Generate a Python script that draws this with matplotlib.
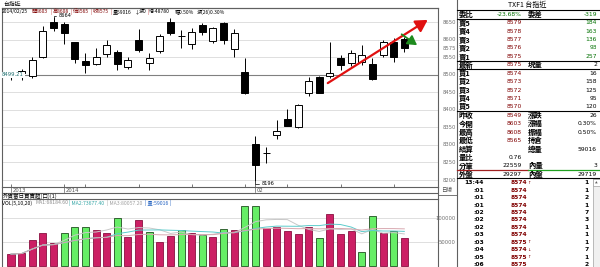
import numpy as np
import matplotlib
matplotlib.use("Agg")
import matplotlib.pyplot as plt
import matplotlib.transforms as mtransforms
from matplotlib.patches import Rectangle

plt.rcParams['font.family'] = ['DejaVu Sans', 'Noto Sans CJK TC']

W, H = 600, 267

# daily candles, 2013/12/25 .. 2014/02/25
opens = [8494, 8510, 8496, 8550, 8650, 8644, 8593, 8539, 8530, 8559, 8565, 8522, 8599,
         8533, 8567, 8650, 8611, 8587, 8641, 8596, 8647, 8573, 8508, 8303, 8276, 8328,
         8374, 8351, 8448, 8493, 8496, 8547, 8533, 8536, 8530, 8556, 8593, 8603]
highs = [8506, 8516, 8550, 8639, 8664, 8650, 8594, 8562, 8576, 8599, 8570, 8550, 8630,
         8562, 8616, 8661, 8627, 8633, 8647, 8636, 8650, 8630, 8547, 8325, 8294, 8371,
         8402, 8416, 8493, 8496, 8593, 8556, 8570, 8584, 8547, 8598, 8604, 8608]
lows = [8486, 8485, 8491, 8548, 8624, 8587, 8533, 8505, 8528, 8550, 8513, 8516, 8565,
        8513, 8562, 8613, 8576, 8573, 8613, 8590, 8587, 8550, 8445, 8196, 8248, 8317,
        8353, 8348, 8439, 8447, 8491, 8513, 8525, 8528, 8485, 8550, 8536, 8565]
closes = [8500, 8506, 8542, 8624, 8633, 8619, 8545, 8528, 8550, 8584, 8530, 8542, 8570,
          8547, 8610, 8619, 8610, 8622, 8621, 8633, 8599, 8619, 8448, 8243, 8277, 8340,
          8354, 8414, 8482, 8448, 8505, 8528, 8562, 8556, 8488, 8593, 8549, 8575]
volumes = [25000, 27000, 54000, 69000, 48000, 69000, 81000, 81000, 75000, 69000,
           100000, 60000, 96000, 71000, 50000, 62000, 75000, 69000, 65000, 60000,
           77000, 75000, 125000, 125000, 79000, 81000, 73000, 67000, 81000, 58000,
           108000, 67000, 73000, 29000, 104000, 69000, 73000, 59016]
tick_pos = [0, 5, 7, 12, 17, 22, 23, 26, 31, 36]
date_labels = {0: "2013", 5: "2014", 23: "02"}
price_ticks = [8650, 8600, 8575, 8550, 8500, 8450, 8400, 8350, 8300, 8250, 8200]
vol_ticks = [100000, 50000]
ref_price = 8499.21
up_arrow = ((29.8, 8476), (39.2, 8656))      # (from, to) in (bar, price)
down_arrow = ((36.75, 8615), (38.2, 8584))

# header strings
info_parts = ["2014/02/25", "開8603", "|", "高8608", "|", "低8565", "|", "收8575", "|",
              "量59016", "↓", "漲0", "|", "增-48780", "幅0.50%", "漲(26)0.30%"]
vol_parts = ["VOL(5,10,20)", "MA1:68184.60", "| MA2:73677.40", "| MA3:80057.20", "| 量:59016 |"]

# quote board
ask_rows = [("賣5", "8579", "184"), ("賣4", "8578", "163"), ("賣3", "8577", "136"),
            ("賣2", "8576", "93"), ("賣1", "8575", "257")]
bid_rows = [("買1", "8574", "16"), ("買2", "8573", "158"), ("買3", "8572", "125"),
            ("買4", "8571", "95"), ("買5", "8570", "120")]
stat_rows = [("昨收", "8549", "漲跌", "26"), ("今開", "8603", "漲幅", "0.30%"),
             ("最高", "8608", "振幅", "0.50%"), ("最低", "8565", "持倉", ""),
             ("結算", "", "總量", "59016"), ("量比", "0.76", "", ""),
             ("分筆", "22559", "內量", "3"), ("外盤", "29297", "內盤", "29719")]
tick_times = ["13:44", ":01", ":01", ":01", ":02", ":02", ":02", ":03", ":03", ":04", ":05", ":06"]
tick_prices = ["8574", "8574", "8574", "8574", "8574", "8574", "8574", "8574", "8575",
               "8574", "8575", "8575"]
tick_marks = ["↑", "", "", "", "", "", "", "", "↑", "↓", "↑", ""]
tick_vols = ["1", "1", "2", "1", "7", "3", "1", "1", "1", "7", "1", "2"]

UP_VOL, DN_VOL = "#cc1f64", "#66ee66"
MAROON, DKGREEN = "#800000", "#007000"
AXC = "#606060"


def box(x0, y0, x1, y1):
    return [x0 / W, 1 - y1 / H, (x1 - x0) / W, (y1 - y0) / H]


fig = plt.figure(figsize=(W / 100, H / 100), dpi=100)
fig.patch.set_facecolor("white")

n = len(closes)
idx = np.arange(n)
pxper = 10.63                       # pixels per bar
x0 = (2 - 11) / pxper
x1 = (438 - 11) / pxper

# ---- price panel
ax = fig.add_axes(box(2, 8, 438, 187))
ppt = 158 / 450.0
ax.set_xlim(x0, x1)
ax.set_ylim(8650 - 165 / ppt, 8650 + 14 / ppt)
for p in range(8200, 8651, 50):
    ax.axhline(p, color="#d9d9d9", lw=0.6, zorder=0)
ax.axhline(ref_price, color="#808080", lw=0.8, zorder=0)
o, c = np.array(opens), np.array(closes)
ax.vlines(idx, lows, highs, color="black", lw=0.7, zorder=2)
body_lo = np.minimum(o, c)
body_h = np.maximum(np.abs(c - o), 0.8)
face = ["white" if cc >= oo else "black" for oo, cc in zip(o, c)]
ax.bar(idx, body_h, bottom=body_lo, width=0.66, color=face, edgecolor="black", lw=0.7, zorder=3)
ax.set_xticks(tick_pos)
ax.tick_params(axis="x", length=2, width=0.6, labelbottom=False, direction="in", color=AXC)
ax.set_yticks([])
for s in ax.spines.values():
    s.set_linewidth(0.8)
    s.set_color(AXC)
tr = mtransforms.blended_transform_factory(ax.transAxes, ax.transData)
for p in price_ticks:
    ax.text(1.010, p, str(p), transform=tr, fontsize=3.8, color="#707070", va="center", ha="left",
            clip_on=False)
ax.text(0.0, ref_price, "8499.21", transform=tr, fontsize=3.8, color="#207070", va="center",
        ha="left", bbox=dict(boxstyle="square,pad=0.15", fc="white", ec="none"), zorder=5)
# high / low marks
hi = int(np.argmax(highs))
lo = int(np.argmin(lows))
ax.annotate(str(max(highs)), xy=(hi, max(highs)), xytext=(hi + 0.45, max(highs) + 4),
            fontsize=3.6, va="center", ha="left",
            arrowprops=dict(arrowstyle="-", lw=0.5, shrinkA=0, shrinkB=0,
                            connectionstyle="angle,angleA=0,angleB=90,rad=0"))
ax.annotate(str(min(lows)), xy=(lo, min(lows)), xytext=(lo + 0.55, min(lows) - 6),
            fontsize=3.6, va="center", ha="left",
            arrowprops=dict(arrowstyle="-", lw=0.5, shrinkA=0, shrinkB=0,
                            connectionstyle="angle,angleA=0,angleB=90,rad=0"))
# trend arrows
ax.annotate("", xy=up_arrow[1], xytext=up_arrow[0],
            arrowprops=dict(arrowstyle="-|>,head_length=0.7,head_width=0.4", color="#e01010",
                            lw=1.6, shrinkA=0, shrinkB=0), zorder=6)
ax.annotate("", xy=down_arrow[1], xytext=down_arrow[0],
            arrowprops=dict(arrowstyle="-|>,head_length=0.55,head_width=0.32", color="#1e8a1e",
                            lw=1.3, shrinkA=0, shrinkB=0), zorder=6)

# ---- volume panel
vax = fig.add_axes(box(2, 199, 438, 267))
vax.set_xlim(x0, x1)
vpp = 24 / 50000.0
vax.set_ylim(-1 / vpp, 67 / vpp)
for v in vol_ticks:
    vax.axhline(v, color="#d9d9d9", lw=0.6, zorder=0)
vcol = [UP_VOL] + [UP_VOL if closes[i] >= closes[i - 1] else DN_VOL for i in range(1, n)]
vedge = ["#8a1040" if cc == UP_VOL else "#1f4f1f" for cc in vcol]
vax.bar(idx, volumes, width=0.66, color=vcol, edgecolor=vedge, lw=0.6, zorder=2)
vol = np.array(volumes, float)
for win, colr in [(5, "#c8c8c8"), (10, "#5ccccc"), (20, "#d8a8b0")]:
    ma = np.array([vol[max(0, i - win + 1):i + 1].mean() for i in range(n)])
    vax.plot(idx, ma, color=colr, lw=0.7, zorder=3)
vax.set_xticks([])
vax.set_yticks([])
for s in vax.spines.values():
    s.set_linewidth(0.8)
    s.set_color(AXC)
vax.spines["bottom"].set_visible(False)
vtr = mtransforms.blended_transform_factory(vax.transAxes, vax.transData)
for v in vol_ticks:
    vax.text(1.040, v, str(v), transform=vtr, fontsize=3.8, color="#707070", va="center",
             ha="right", clip_on=False)

# ---- overlay (pixel coordinates)
ov = fig.add_axes([0, 0, 1, 1], zorder=10)
ov.set_xlim(0, W)
ov.set_ylim(H, 0)
ov.axis("off")
ov.patch.set_alpha(0)
cjk = ["Noto Sans CJK TC", "DejaVu Sans"]

ov.text(3, 4, "台指近", fontsize=4.2, family=cjk, va="center")
ov.plot([2, 438], [8, 8], color=AXC, lw=0.8)
info_x = [2, 31.5, 50.5, 52.5, 70.5, 72.5, 90.5, 92.5, 110.5, 112.5, 134.5, 138.5, 147, 149, 175, 197]
for s, xx in zip(info_parts, info_x):
    colr = MAROON if s[:1] in "開高低收" else ("#c04040" if s == "|" else "black")
    ov.text(xx, 11.8, s, fontsize=3.6, family=cjk, color=colr, va="center")
# date labels on the price panel bottom
for i, lab in date_labels.items():
    px = 11 + i * pxper
    ov.plot([px, px], [187, 192], color=AXC, lw=0.5)
    ov.text(px + 1.2, 190, lab, fontsize=3.8, color="#505050", va="center")
ov.plot([2, 438], [193, 193], color=AXC, lw=0.8)
ov.plot([2, 2], [187, 199], color=AXC, lw=0.8)
ov.text(3, 196, "外資當日買賣超(口)(1)", fontsize=4.0, family=cjk, va="center")
ov.plot([438, 457], [194.5, 194.5], color=AXC, lw=0.6)
ov.plot([438, 438], [187, 199], color=AXC, lw=0.8)
ov.text(441, 190.5, "日線", fontsize=4.0, family=cjk, va="center", color="#505050")
vol_x = [2, 35, 69, 107, 145]
vol_c = ["black", "#909090", "#3aa8a8", "#a0a0a0", "#2060c0"]
for s, xx, colr in zip(vol_parts, vol_x, vol_c):
    ov.text(xx, 203, s, fontsize=3.7, family=cjk, color=colr, va="center")

# ---- quote board
L1, V1, L2, V2 = 458.5, 522, 528, 597
ov.plot([457, 457], [0, 267], color=AXC, lw=0.8)
ov.text(527, 5, "TXF1 台指近", fontsize=5, family=cjk, ha="center", va="center")
ov.plot([457, 600], [10, 10], color="black", lw=0.8)
ov.plot([457, 600], [18.5, 18.5], color="black", lw=0.8)
lab_kw = dict(fontsize=5.3, family=cjk, weight="bold", va="center")
num_kw = dict(fontsize=4.3, va="center", ha="right")
y = 14.3
ov.text(L1, y, "委比", **lab_kw)
ov.text(V1, y, "-23.68%", color=DKGREEN, **num_kw)
ov.text(L2, y, "委差", **lab_kw)
ov.text(V2, y, "-319", color=DKGREEN, **num_kw)
step = 8.42
y += step
for lab, pr, q in ask_rows:
    ov.text(L1, y, lab, **lab_kw)
    ov.text(V1, y, pr, color=MAROON, **num_kw)
    ov.text(V2, y, q, color=DKGREEN, **num_kw)
    y += step
ov.plot([457, 600], [y - step / 2, y - step / 2], color="black", lw=0.8)
ov.text(L1, y, "最新", **lab_kw)
ov.text(V1, y, "8575", color=MAROON, **num_kw)
ov.text(L2, y, "現量", **lab_kw)
ov.text(V2, y, "2", color="black", **num_kw)
y += step
ov.plot([457, 600], [y - step / 2, y - step / 2], color="black", lw=0.8)
for lab, pr, q in bid_rows:
    ov.text(L1, y, lab, **lab_kw)
    ov.text(V1, y, pr, color=MAROON, **num_kw)
    ov.text(V2, y, q, color="black", **num_kw)
    y += step
ov.plot([457, 600], [y - step / 2, y - step / 2], color="black", lw=0.8)
for la, va_, lb, vb in stat_rows:
    ov.text(L1, y, la, **lab_kw)
    ov.text(V1, y, va_, color=MAROON if va_.isdigit() and len(va_) == 4 else "black", **num_kw)
    if lb:
        ov.text(L2, y, lb, **lab_kw)
    ov.text(V2, y, vb, color="black", **num_kw)
    y += step
yl = y - step * 1.5
ov.plot([457, 528], [yl, yl], color="#a02020", lw=0.9)
ov.plot([528, 600], [yl, yl], color="#20a020", lw=0.9)
ov.plot([457, 600], [y - step / 2, y - step / 2], color="black", lw=0.8)
ty = y
tstep = 7.45
for tm, pr, mk, q in zip(tick_times, tick_prices, tick_marks, tick_vols):
    ov.text(484, ty, tm, fontsize=4.3, ha="right", va="center", weight="bold")
    ov.text(527, ty, pr, color=MAROON, fontsize=4.3, ha="right", va="center", weight="bold")
    ov.text(527.5, ty, mk, color=MAROON, fontsize=3.0, ha="left", va="center")
    ov.text(589, ty, q, fontsize=4.3, ha="right", va="center", weight="bold")
    ty += tstep
ov.add_patch(Rectangle((592.5, y - step / 2), 7, 267, fc="#f0f0f0", ec="#a0a0a0", lw=0.5))
ov.add_patch(Rectangle((592.5, y - step / 2 + 1), 7, 7, fc="white", ec="#a0a0a0", lw=0.5))
ov.text(596, y - step / 2 + 4.5, "▲", fontsize=2.5, ha="center", va="center", color="#606060")

fig.savefig("out.png", dpi=100)
